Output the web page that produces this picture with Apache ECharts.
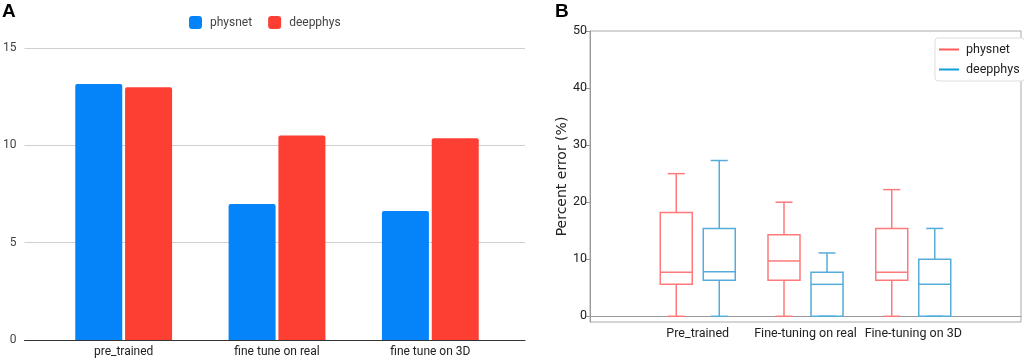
<!DOCTYPE html>
<html>
<head>
<meta charset="utf-8">
<script src="https://cdn.jsdelivr.net/npm/echarts@6/dist/echarts.min.js"></script>
<style>
  html, body { margin: 0; padding: 0; background: #fff; }
  #chart { width: 1024px; height: 361px; }
</style>
</head>
<body>
<div id="chart"></div>
<script>
// panel A: bar values
const barCategories = ['pre_trained', 'fine tune on real', 'fine tune on 3D'];
const barPhysnet = [13.15, 6.98, 6.63];
const barDeepphys = [12.98, 10.51, 10.37];
const barTicks = [0, 5, 10, 15];

// panel B: box stats [min, q1, median, q3, max]
const boxCategories = ['Pre_trained', 'Fine-tuning on real', 'Fine-tuning on 3D'];
const boxPhysnet = [
  [0, 5.6, 7.7, 18.2, 25.0],
  [0, 6.3, 9.7, 14.3, 20.0],
  [0, 6.3, 7.7, 15.4, 22.2]
];
const boxDeepphys = [
  [0, 6.3, 7.8, 15.4, 27.3],
  [0, 0, 5.6, 7.7, 11.1],
  [0, 0, 5.6, 10.0, 15.4]
];
const boxTicks = [0, 10, 20, 30, 40, 50];

const BLUE = '#0584f9', RED = '#fd3f33';
const BOX_RED = '#ff7a7a', BOX_BLUE = '#56acd9';
const NARROW = "Roboto, 'Liberation Sans', sans-serif";

// pad box categories so the axis runs one step past each side
const boxAxisCats = [''].concat(boxCategories, ['']);
function boxRows(stats) {
  return stats.map(function (s, i) { return [i + 1].concat(s); });
}

function boxRenderer(offset, color) {
  return function (params, api) {
    const x = api.coord([api.value(0), 0])[0] + offset;
    const yMin = api.coord([api.value(0), api.value(1)])[1];
    const yQ1 = api.coord([api.value(0), api.value(2)])[1];
    const yMed = api.coord([api.value(0), api.value(3)])[1];
    const yQ3 = api.coord([api.value(0), api.value(4)])[1];
    const yMax = api.coord([api.value(0), api.value(5)])[1];
    const hw = 16, cw = 8.5;
    const st = { stroke: color, lineWidth: 1.5, fill: null };
    return {
      type: 'group',
      children: [
        { type: 'line', shape: { x1: x, y1: yMax, x2: x, y2: yQ3 }, style: st },
        { type: 'line', shape: { x1: x, y1: yQ1, x2: x, y2: yMin }, style: st },
        { type: 'line', shape: { x1: x - cw, y1: yMax, x2: x + cw, y2: yMax }, style: st },
        { type: 'line', shape: { x1: x - cw, y1: yMin, x2: x + cw, y2: yMin }, style: st },
        { type: 'rect', shape: { x: x - hw, y: yQ3, width: hw * 2, height: yQ1 - yQ3 }, style: st },
        { type: 'line', shape: { x1: x - hw, y1: yMed, x2: x + hw, y2: yMed }, style: st }
      ]
    };
  };
}

const chart = echarts.init(document.getElementById('chart'));
chart.setOption({
  animation: false,
  title: [
    { text: 'A', left: 2, top: 2, padding: 0, textStyle: { fontSize: 19, fontWeight: 'bold', color: '#000', fontFamily: 'Liberation Sans' } },
    { text: 'B', left: 555, top: 2, padding: 0, textStyle: { fontSize: 19, fontWeight: 'bold', color: '#000', fontFamily: 'Liberation Sans' } }
  ],
  legend: [
    {
      left: 189, top: 16, padding: 0, itemWidth: 13, itemHeight: 13, itemGap: 16,
      textStyle: { fontSize: 12, color: '#444', fontFamily: 'Roboto', padding: [0, 0, 0, 3] },
      data: [
        { name: 'physnet', icon: 'roundRect', itemStyle: { color: BLUE } },
        { name: 'deepphys', icon: 'roundRect', itemStyle: { color: RED } }
      ]
    },
    {
      orient: 'vertical', left: 935, top: 38, padding: [5, 5, 5, 4], itemWidth: 20, itemHeight: 2, itemGap: 7,
      backgroundColor: '#fff', borderColor: '#ddd', borderWidth: 1, borderRadius: 3,
      textStyle: { fontSize: 12.5, color: '#222', fontFamily: NARROW, padding: [0, 0, 0, 2] },
      data: [
        { name: 'physnet', icon: 'rect', itemStyle: { color: '#ff5a5a' } },
        { name: 'deepphys', icon: 'rect', itemStyle: { color: '#13a0d8' } }
      ]
    }
  ],
  grid: [
    { left: 20, top: 48, width: 505, height: 292 },   // A gridlines
    { left: 47, top: 48, width: 460, height: 292 },   // A bars
    { left: 590, top: 31, width: 432, height: 291, show: true, borderColor: '#aaa', borderWidth: 1 } // B
  ],
  xAxis: [
    { gridIndex: 0, type: 'category', data: barCategories,
      axisLine: { lineStyle: { color: '#333', width: 1 } }, axisTick: { show: false }, axisLabel: { show: false } },
    { gridIndex: 1, type: 'category', data: barCategories,
      axisLine: { show: false }, axisTick: { show: false },
      axisLabel: { fontSize: 12, color: '#222', margin: 6, fontFamily: 'Roboto' } },
    { gridIndex: 2, type: 'category', data: boxAxisCats, boundaryGap: false,
      axisLine: { lineStyle: { color: '#999' } }, axisTick: { show: false },
      axisLabel: { fontSize: 12.5, color: '#222', margin: 5, fontFamily: NARROW, interval: 0 } }
  ],
  yAxis: [
    { gridIndex: 0, type: 'value', min: 0, max: 15, interval: 5,
      axisLine: { show: false }, axisTick: { show: false },
      axisLabel: { fontSize: 12, color: '#444', margin: 8, fontFamily: 'Roboto' },
      splitLine: { lineStyle: { color: '#d0d0d0' } } },
    { gridIndex: 1, type: 'value', min: 0, max: 15, interval: 5, show: false, splitLine: { show: false } },
    { gridIndex: 2, type: 'value', min: -1, max: 50,
      name: 'Percent error (%)', nameLocation: 'middle', nameRotate: 90, nameGap: 16,
      nameTextStyle: { fontSize: 14, color: '#222', fontFamily: 'DejaVu Sans' },
      axisLine: { show: true, lineStyle: { color: '#999' } },
      axisTick: { show: true, length: 4, customValues: boxTicks, lineStyle: { color: '#999' } },
      axisLabel: { fontSize: 12.5, color: '#222', margin: 3, fontFamily: NARROW, customValues: boxTicks },
      splitLine: { show: false } }
  ],
  series: [
    { name: 'physnet', type: 'bar', xAxisIndex: 1, yAxisIndex: 1, data: barPhysnet,
      barWidth: 47, barGap: '6%', itemStyle: { color: BLUE, borderRadius: [2, 2, 0, 0] } },
    { name: 'deepphys', type: 'bar', xAxisIndex: 1, yAxisIndex: 1, data: barDeepphys,
      barWidth: 47, barGap: '6%', itemStyle: { color: RED, borderRadius: [2, 2, 0, 0] } },
    { name: 'physnet', type: 'custom', xAxisIndex: 2, yAxisIndex: 2, data: boxRows(boxPhysnet),
      renderItem: boxRenderer(-21.5, BOX_RED), itemStyle: { color: '#ff5a5a' } },
    { name: 'deepphys', type: 'custom', xAxisIndex: 2, yAxisIndex: 2, data: boxRows(boxDeepphys),
      renderItem: boxRenderer(21.5, BOX_BLUE), itemStyle: { color: '#13a0d8' } }
  ]
});
</script>
</body>
</html>
